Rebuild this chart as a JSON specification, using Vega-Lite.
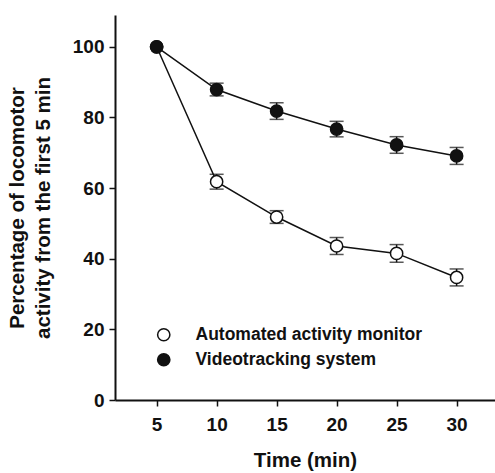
{
  "$schema": "https://vega.github.io/schema/vega-lite/v6.json",
  "autosize": "none",
  "width": 380,
  "height": 385,
  "padding": {"left": 115, "top": 15, "right": 0, "bottom": 73},
  "background": "white",
  "config": {
    "view": {"stroke": null},
    "font": "Liberation Sans",
    "axis": {
      "grid": false,
      "domainColor": "#111",
      "domainWidth": 2,
      "tickColor": "#111",
      "tickWidth": 1.5,
      "tickSize": 6,
      "labelFont": "Liberation Sans",
      "labelFontWeight": "bold",
      "labelFontSize": 19,
      "labelColor": "#111",
      "titleFont": "Liberation Sans",
      "titleFontWeight": "bold",
      "titleFontSize": 20.5,
      "titleColor": "#111"
    }
  },
  "data": {
    "values": [
      {"series": "Automated activity monitor", "time": 5, "value": 100, "lo": null, "hi": null},
      {"series": "Automated activity monitor", "time": 10, "value": 61.8, "lo": 59.7, "hi": 63.9},
      {"series": "Automated activity monitor", "time": 15, "value": 51.8, "lo": 50.0, "hi": 53.6},
      {"series": "Automated activity monitor", "time": 20, "value": 43.6, "lo": 41.2, "hi": 46.0},
      {"series": "Automated activity monitor", "time": 25, "value": 41.5, "lo": 39.0, "hi": 44.0},
      {"series": "Automated activity monitor", "time": 30, "value": 34.7, "lo": 32.3, "hi": 37.1},
      {"series": "Videotracking system", "time": 5, "value": 100, "lo": null, "hi": null},
      {"series": "Videotracking system", "time": 10, "value": 87.9, "lo": 86.1, "hi": 89.7},
      {"series": "Videotracking system", "time": 15, "value": 81.8, "lo": 79.45, "hi": 84.15},
      {"series": "Videotracking system", "time": 20, "value": 76.7, "lo": 74.5, "hi": 78.9},
      {"series": "Videotracking system", "time": 25, "value": 72.2, "lo": 69.85, "hi": 74.55},
      {"series": "Videotracking system", "time": 30, "value": 69.1, "lo": 66.7, "hi": 71.5}
    ]
  },
  "encoding": {
    "x": {
      "field": "time",
      "type": "quantitative",
      "scale": {"domain": [1.53, 33.2], "nice": false, "zero": false},
      "axis": {"values": [5, 10, 15, 20, 25, 30], "title": "Time (min)", "labelPadding": 9, "titlePadding": 16}
    },
    "y": {
      "field": "value",
      "type": "quantitative",
      "scale": {"domain": [0, 109], "nice": false},
      "axis": {
        "values": [0, 20, 40, 60, 80, 100],
        "title": ["Percentage of locomotor", "activity from the first 5 min"],
        "titleLineHeight": 26,
        "labelPadding": 5,
        "titlePadding": 19
      }
    }
  },
  "layer": [
    {
      "mark": {"type": "line", "color": "#111", "strokeWidth": 1.5},
      "encoding": {"detail": {"field": "series"}}
    },
    {
      "transform": [{"filter": "datum.lo != null"}],
      "mark": {"type": "errorbar", "ticks": {"size": 14, "thickness": 1.5, "color": "#111"}, "thickness": 1.5, "color": "#111"},
      "encoding": {
        "y": {"field": "lo", "type": "quantitative"},
        "y2": {"field": "hi"}
      }
    },
    {
      "mark": {"type": "point", "shape": "circle", "size": 150, "stroke": "#111", "strokeWidth": 1.5, "opacity": 1, "filled": false},
      "encoding": {
        "fill": {
          "field": "series",
          "type": "nominal",
          "scale": {"domain": ["Automated activity monitor", "Videotracking system"], "range": ["white", "#111"]},
          "legend": {
            "orient": "none",
            "legendX": 40,
            "legendY": 311,
            "title": null,
            "padding": 0,
            "symbolType": "circle",
            "symbolSize": 150,
            "symbolStrokeColor": "#111",
            "symbolStrokeWidth": 1.5,
            "labelFont": "Liberation Sans",
            "labelFontWeight": "bold",
            "labelFontSize": 17.5,
            "labelColor": "#111",
            "labelLimit": 0,
            "labelOffset": 23,
            "rowPadding": 6
          }
        }
      }
    }
  ]
}
